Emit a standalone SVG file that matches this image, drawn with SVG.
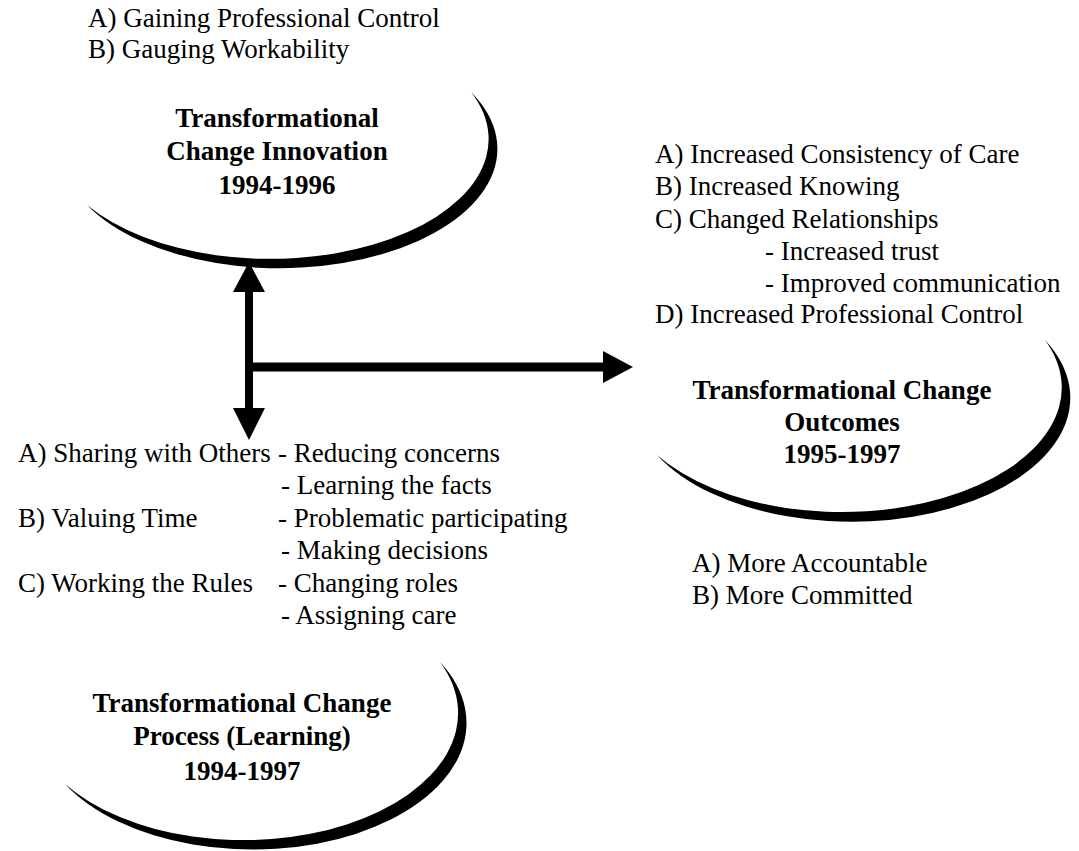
<svg xmlns="http://www.w3.org/2000/svg" width="1079" height="851" viewBox="0 0 1079 851">
<style>
.t{font-family:"Liberation Serif","Times New Roman",serif;font-size:27px;fill:#000}
.b{font-family:"Liberation Serif","Times New Roman",serif;font-size:27px;font-weight:bold;fill:#000;text-anchor:middle}
.cr{fill:#000}
.ar{fill:#000}
.sh{stroke:#000;fill:none}
</style>
<rect width="1079" height="851" fill="#fff"/>
<g id="connectors">
<line class="sh" x1="249" y1="288" x2="249" y2="410" stroke-width="8"/>
<line class="sh" x1="245" y1="367" x2="605" y2="367" stroke-width="9"/>
<polygon class="ar" points="249,262 265,292 233,292"/>
<polygon class="ar" points="233,408 265,408 249,440"/>
<polygon class="ar" points="603,351 633,367 603,383"/>
</g>
<g id="node-innovation">
<path class="cr" d="M87,205 A218,119.3 0 1 0 471,92 A218.87,119.78 0 0 1 87,205 Z"/>
<text class="b" x="277" y="127">Transformational</text>
<text class="b" x="277" y="160">Change Innovation</text>
<text class="b" x="277" y="194">1994-1996</text>
</g>
<g id="innovation-list">
<text class="t" x="88" y="27">A) Gaining Professional Control</text>
<text class="t" x="88" y="58">B) Gauging Workability</text>
</g>
<g id="node-outcomes">
<path class="cr" d="M657,455 A219,123.93 0 1 0 1045,340 A219.88,124.43 0 0 1 657,455 Z"/>
<text class="b" x="842" y="399">Transformational Change</text>
<text class="b" x="842" y="431">Outcomes</text>
<text class="b" x="842" y="463">1995-1997</text>
</g>
<g id="outcomes-list-top">
<text class="t" x="655" y="163">A) Increased Consistency of Care</text>
<text class="t" x="655" y="195">B) Increased Knowing</text>
<text class="t" x="655" y="228">C) Changed Relationships</text>
<text class="t" x="765" y="260">- Increased trust</text>
<text class="t" x="765" y="292">- Improved communication</text>
<text class="t" x="655" y="323">D) Increased Professional Control</text>
</g>
<g id="outcomes-list-bottom">
<text class="t" x="692" y="572">A) More Accountable</text>
<text class="t" x="692" y="604">B) More Committed</text>
</g>
<g id="process-list">
<text class="t" y="462"><tspan x="18">A) Sharing with Others</tspan><tspan x="278">- Reducing concerns</tspan></text>
<text class="t" x="281" y="494">- Learning the facts</text>
<text class="t" y="527"><tspan x="18">B) Valuing Time</tspan><tspan x="278">- Problematic participating</tspan></text>
<text class="t" x="281" y="559">- Making decisions</text>
<text class="t" y="592"><tspan x="18">C) Working the Rules</tspan><tspan x="278">- Changing roles</tspan></text>
<text class="t" x="281" y="624">- Assigning care</text>
</g>
<g id="node-process">
<path class="cr" d="M65,784 A214,126.55 0 1 0 440,662 A214.86,127.06 0 0 1 65,784 Z"/>
<text class="b" x="242" y="712">Transformational Change</text>
<text class="b" x="242" y="745">Process (Learning)</text>
<text class="b" x="242" y="780">1994-1997</text>
</g>
</svg>
